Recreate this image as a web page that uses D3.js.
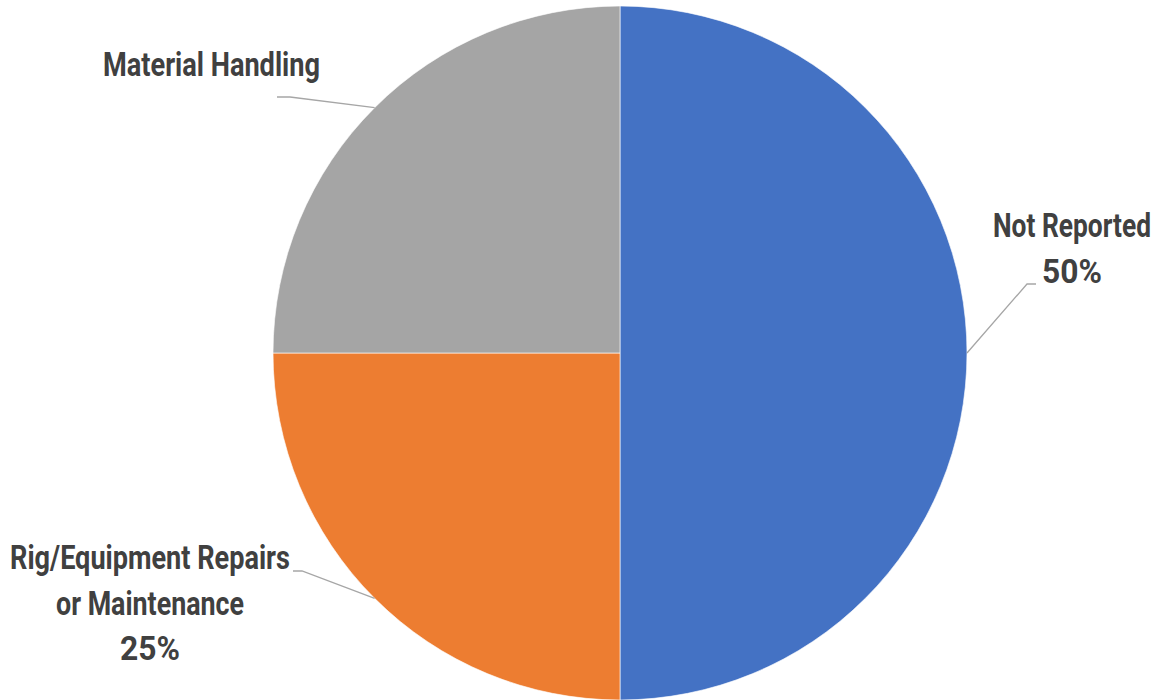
<!DOCTYPE html>
<html>
<head>
<meta charset="utf-8">
<script src="https://cdn.jsdelivr.net/npm/d3@7"></script>
<style>
  html, body { margin: 0; padding: 0; background: #fff; }
  svg { display: block; }
</style>
</head>
<body>
<svg id="chart" width="1159" height="700"></svg>
<script>
// ---- data ----
const categories = ["Not Reported", "Rig/Equipment Repairs or Maintenance", "Material Handling"];
const values = [50, 25, 25];
const colors = ["#4472C4", "#ED7D31", "#A5A5A5"];
// label text lines per category (as displayed)
const labelLines = [
  ["Not Reported", "50%"],
  ["Rig/Equipment Repairs", "or Maintenance", "25%"],
  ["Material Handling"]
];

// ---- layout ----
const W = 1159, H = 700;
const cx = 620, cy = 353, R = 347;
const labelLayout = [
  { x: 1072, y: 237, widths: [158, 60], elbow: [1027, 284], end: [1036, 284] },
  { x: 150, y: 569, widths: [280, 188, 60], elbow: [302, 571], end: [293, 571] },
  { x: 211.5, y: 76, widths: [217], elbow: [290, 97], end: [277, 97] }
];
const lineH = 45.5;

const svg = d3.select("#chart");
const g = svg.append("g").attr("transform", `translate(${cx},${cy})`);

const pie = d3.pie().sort(null).value(d => d).startAngle(0).endAngle(2 * Math.PI);
const arcs = pie(values);
const arc = d3.arc().innerRadius(0).outerRadius(R);
const edgeArc = d3.arc().innerRadius(R).outerRadius(R);

g.selectAll("path.slice")
  .data(arcs)
  .enter().append("path")
  .attr("class", "slice")
  .attr("d", arc)
  .attr("fill", (d, i) => colors[i])
  .attr("stroke", "#ffffff")
  .attr("stroke-opacity", 0.6)
  .attr("stroke-width", 1);

// leader lines
arcs.forEach((d, i) => {
  const p = edgeArc.centroid(d);
  const L = labelLayout[i];
  const pts = [[p[0] + cx, p[1] + cy], L.elbow, L.end];
  svg.append("polyline")
    .attr("points", pts.map(q => q.join(",")).join(" "))
    .attr("fill", "none")
    .attr("stroke", "#A6A6A6")
    .attr("stroke-width", 1.3);
});

// labels (horizontally condensed to mimic a condensed typeface)
labelLines.forEach((lines, i) => {
  const L = labelLayout[i];
  lines.forEach((ln, j) => {
    const t = svg.append("text")
      .attr("font-family", "Roboto, 'Liberation Sans', sans-serif")
      .attr("font-weight", "bold")
      .attr("font-size", 34)
      .attr("fill", "#404040")
      .attr("text-anchor", "middle")
      .text(ln);
    const natural = t.node().getComputedTextLength();
    const sx = L.widths[j] / natural;
    t.attr("transform", `translate(${L.x},${L.y + j * lineH}) scale(${sx},1)`);
  });
});
</script>
</body>
</html>
